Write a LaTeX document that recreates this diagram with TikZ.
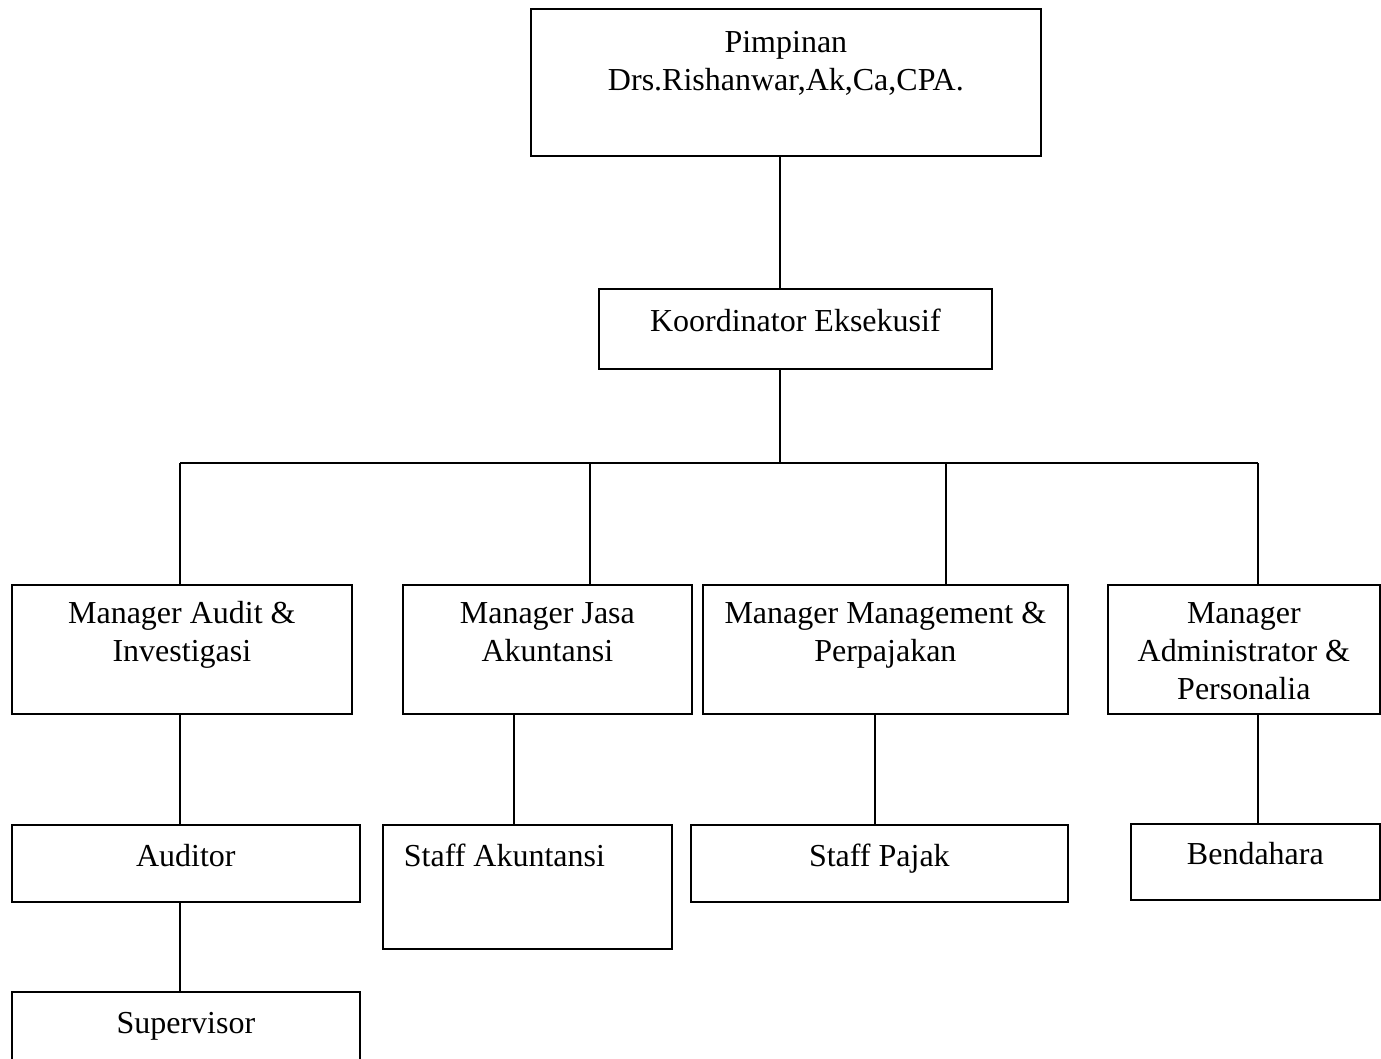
\documentclass[tikz,border=0pt]{standalone}
\usepackage{fontspec}
\setmainfont{Liberation Serif}

\begin{document}
\begin{tikzpicture}[x=0.75pt,y=0.75pt,yscale=-1,xscale=1,
  unit/.style={draw,line width=1.3pt,anchor=north west,inner sep=0pt,align=flush center,
    text height=31pt,font=\fontsize{24}{28.5}\selectfont},
  link/.style={line width=1.3pt}]
\clip (0,0) rectangle (1381,1058);

% Text Node
\node [unit,text width=382.5pt,text height=32.75pt,text depth=77.5pt] (pimpinan) at (530,8) {Pimpinan\\Drs.Rishanwar,Ak,Ca,CPA.};
% Text Node
\node [unit,text width=294.75pt,text height=32.25pt,text depth=27.75pt] (koordinator) at (598,288) {Koordinator Eksekusif};

% Text Node
\node [unit,text width=255pt,text height=29.25pt,text depth=67.5pt] (mgraudit) at (11,584) {Manager Audit \&\\Investigasi};
% Text Node
\node [unit,text width=216.75pt,text height=29.25pt,text depth=67.5pt] (mgrjasa) at (402,584) {Manager Jasa\\Akuntansi};
% Text Node
\node [unit,text width=273.75pt,text height=29.25pt,text depth=67.5pt] (mgrpajak) at (702,584) {Manager Management \&\\Perpajakan};
% Text Node
\node [unit,text width=204pt,text height=29.25pt,text depth=67.5pt] (mgradmin) at (1107,584) {Manager\\Administrator \&\\Personalia};

% Text Node
\node [unit,text width=261pt,text depth=26.75pt] (auditor) at (11,824) {Auditor};
% Text Node
\node [unit,inner xsep=15.75pt,text width=185.25pt,align=flush left,text depth=62pt] (staffakun) at (382,824) {Staff Akuntansi};
% Text Node
\node [unit,text width=282.75pt,text depth=26.75pt] (staffpajak) at (690,824) {Staff Pajak};
% Text Node
\node [unit,text width=186.75pt,text height=30.75pt,text depth=26.25pt] (bendahara) at (1130,823) {Bendahara};
% Text Node
\node [unit,text width=261pt,text depth=32pt] (supervisor) at (11,991) {Supervisor};

% bus and drops
\coordinate (trunk) at (780,463);
\coordinate (busA) at (180,463);
\coordinate (busB) at (590,463);
\coordinate (busC) at (946,463);
\coordinate (busD) at (1258,463);
\coordinate (dropB) at (514,0);
\coordinate (dropC) at (875,0);

%Straight Lines
\draw [link] (pimpinan.south -| trunk) -- (koordinator.north -| trunk);
%Straight Lines
\draw [link] (koordinator.south -| trunk) -- (trunk);
%Straight Lines
\draw [link] (busA) -- (busD);
%Straight Lines
\draw [link] (busA) -- (mgraudit.north -| busA);
\draw [link] (busB) -- (mgrjasa.north -| busB);
\draw [link] (busC) -- (mgrpajak.north -| busC);
\draw [link] (busD) -- (mgradmin.north -| busD);
%Straight Lines
\draw [link] (mgraudit.south -| busA) -- (auditor.north -| busA);
\draw [link] (auditor.south -| busA) -- (supervisor.north -| busA);
\draw [link] (mgrjasa.south -| dropB) -- (staffakun.north -| dropB);
\draw [link] (mgrpajak.south -| dropC) -- (staffpajak.north -| dropC);
\draw [link] (mgradmin.south -| busD) -- (bendahara.north -| busD);

\end{tikzpicture}
\end{document}
